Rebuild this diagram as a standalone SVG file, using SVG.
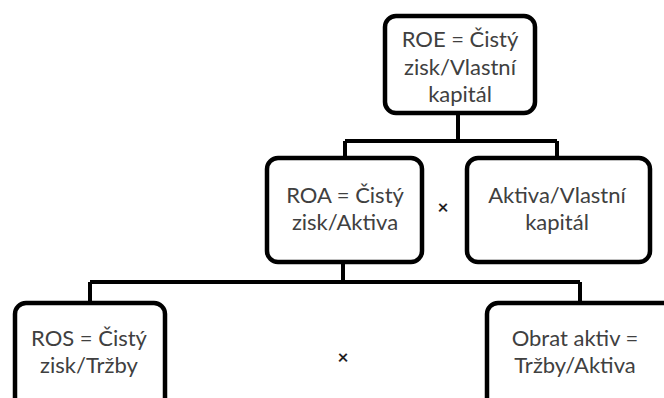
<svg xmlns="http://www.w3.org/2000/svg" width="664" height="398" viewBox="0 0 664 398">
<style>
.box{fill:#fff;stroke:#000;stroke-width:4.5}
.conn{fill:none;stroke:#000;stroke-width:4}
.t{font-family:Lato,"Open Sans","Liberation Sans",sans-serif;font-size:22px;fill:#404040;text-anchor:middle}
.x{font-family:Lato,"Liberation Sans",sans-serif;font-size:19px;font-weight:bold;fill:#222;text-anchor:middle}
</style>
<rect width="664" height="398" fill="#fff"/>
<g id="connectors">
<path class="conn" d="M458 113 V141 M345 141 H557 M345 141 V158 M557 141 V158"/>
<path class="conn" d="M343 262 V282 M90 282 H580 M90 282 V303 M580 282 V303"/>
</g>
<g id="roe">
<rect class="box" x="385" y="16" width="150" height="97" rx="11"/>
<text class="t" x="460" y="47">ROE = Čistý</text>
<text class="t" x="460" y="75">zisk/Vlastní</text>
<text class="t" x="460" y="102">kapitál</text>
</g>
<g id="roa">
<rect class="box" x="267" y="158" width="155" height="104" rx="11"/>
<text class="t" x="345" y="203">ROA = Čistý</text>
<text class="t" x="345" y="230">zisk/Aktiva</text>
</g>
<g id="aktiva">
<rect class="box" x="467" y="158" width="183" height="104" rx="11"/>
<text class="t" x="557" y="203">Aktiva/Vlastní</text>
<text class="t" x="557" y="230">kapitál</text>
</g>
<g id="ros">
<rect class="box" x="15" y="303" width="150" height="110" rx="11"/>
<text class="t" x="89" y="346">ROS = Čistý</text>
<text class="t" x="89" y="373">zisk/Tržby</text>
</g>
<g id="obrat">
<rect class="box" x="487" y="303" width="190" height="110" rx="11"/>
<text class="t" x="575" y="346">Obrat aktiv =</text>
<text class="t" x="575" y="373">Tržby/Aktiva</text>
</g>
<g id="ops">
<text class="x" x="443" y="214">×</text>
<text class="x" x="343" y="364">×</text>
</g>
</svg>
